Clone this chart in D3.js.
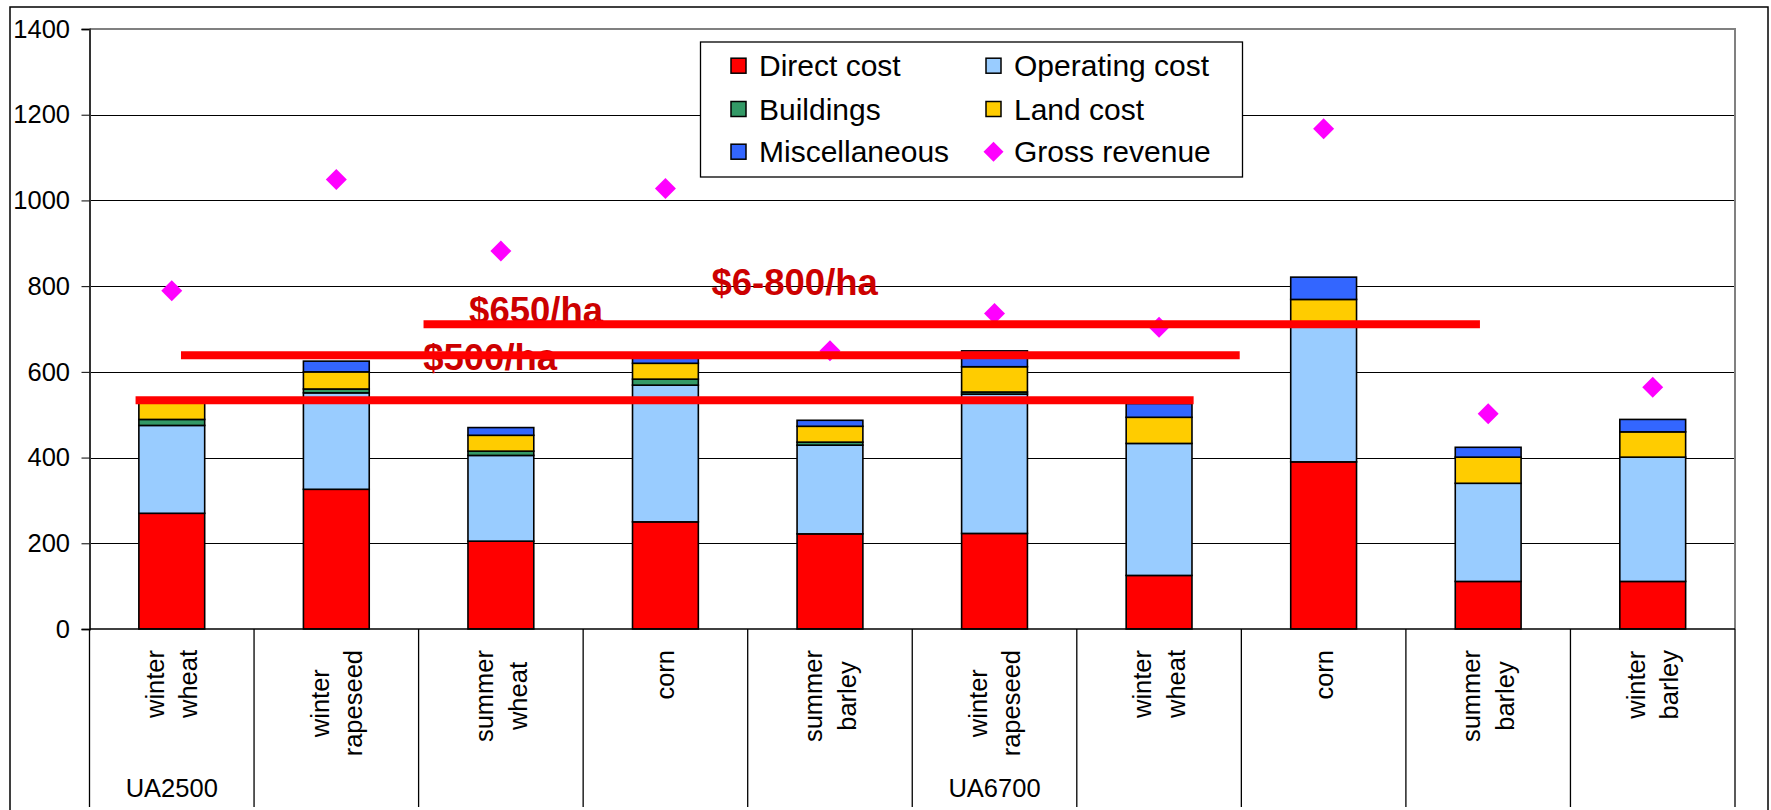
<!DOCTYPE html>
<html>
<head>
<meta charset="utf-8">
<script src="https://cdn.jsdelivr.net/npm/d3@7/dist/d3.min.js"></script>
<style>
  html, body { margin: 0; padding: 0; background: #ffffff; }
  svg { display: block; font-family: "Liberation Sans", Arial, sans-serif; }
</style>
</head>
<body>
<svg id="chart" width="1771" height="810"></svg>
<script>
// ---------- data ----------
const categories = ["winter wheat", "winter rapeseed", "summer wheat", "corn", "summer barley",
                    "winter rapeseed", "winter wheat", "corn", "summer barley", "winter barley"];
const groupLabels = ["UA2500", "", "", "", "", "UA6700", "", "", "", ""];
const directCost    = [270, 326, 205, 250, 222, 223, 125, 390, 111, 111];
const operatingCost = [205, 225, 200, 319, 207, 325, 308, 322, 229, 290];
const buildings     = [14, 9, 10, 14, 7, 5, 0, 0, 0, 0];
const landCost      = [41, 40, 37, 37, 37, 59, 61, 57, 61, 59];
const miscellaneous = [0, 25, 18, 15, 14, 37, 32, 52, 23, 29];
const grossRevenue  = [789, 1049, 882, 1028, 649, 736, 704, 1167, 502, 564];
const yTicks = [0, 200, 400, 600, 800, 1000, 1200, 1400];
const seriesNames = ["Direct cost", "Operating cost", "Buildings", "Land cost", "Miscellaneous", "Gross revenue"];
// reference lines: value level, start and end in category units
const refLineValues = [711, 639, 534];
const refLineStart  = [2.03, 0.556, 0.28];
const refLineEnd    = [8.45, 6.99, 6.71];
// annotations: text, value of baseline, start in category units
const noteTexts  = ["$650/ha", "$500/ha", "$6-800/ha"];
const noteValues = [714, 604, 779];
const noteStart  = [2.307, 2.028, 3.78];

(function () {
// ---------- styles ----------
const colors = ["#FF0000", "#99CCFF", "#339966", "#FFCC00", "#3366FF"];
const revenueColor = "#FF00FF";
const keys = ["direct", "operating", "buildings", "land", "misc"];

const svg = d3.select("#chart");
const pLeft = 89.5, pRight = 1735, pTop = 29, pBottom = 629;

const y = d3.scaleLinear().domain([0, 1400]).range([pBottom, pTop]);
const x = d3.scaleBand().domain(d3.range(categories.length)).range([pLeft, pRight])
            .paddingInner(0.6).paddingOuter(0.3);
const xu = d3.scaleLinear().domain([0, categories.length]).range([pLeft, pRight]);

// outer border
svg.append("rect").attr("x", 10).attr("y", 7).attr("width", 1758).attr("height", 830)
   .attr("fill", "#fff").attr("stroke", "#000").attr("stroke-width", 1.5);

// gridlines
svg.append("g").selectAll("line").data(yTicks.filter(t => t > 0 && t < 1400)).join("line")
   .attr("x1", pLeft).attr("x2", pRight)
   .attr("y1", d => Math.round(y(d)) + 0.5).attr("y2", d => Math.round(y(d)) + 0.5)
   .attr("stroke", "#000").attr("stroke-width", 1);

// plot border (top, right)
svg.append("path")
   .attr("d", `M${pLeft},${pTop}H${pRight}V${pBottom}`)
   .attr("fill", "none").attr("stroke", "#808080").attr("stroke-width", 2);

// y axis
const yAxis = d3.axisLeft(y).tickValues(yTicks).tickSize(8).tickPadding(11.5).tickFormat(d3.format("d"));
const ya = svg.append("g").attr("transform", `translate(${pLeft},0)`).call(yAxis);
ya.select(".domain").attr("stroke", "#333").attr("stroke-width", 2);
ya.selectAll(".tick line").attr("stroke", "#000");
ya.selectAll(".tick text").attr("font-size", 25.5).attr("fill", "#000")
  .attr("font-family", '"Liberation Sans", Arial, sans-serif');

// stacked bars
const table = categories.map((c, i) => ({
  direct: directCost[i], operating: operatingCost[i], buildings: buildings[i],
  land: landCost[i], misc: miscellaneous[i]
}));
const stacked = d3.stack().keys(keys)(table);
const barG = svg.append("g");
stacked.forEach((layer, li) => {
  barG.append("g").selectAll("rect")
    .data(layer.map((d, i) => ({ d, i })).filter(o => o.d[1] - o.d[0] > 0))
    .join("rect")
    .attr("x", o => x(o.i))
    .attr("width", x.bandwidth())
    .attr("y", o => y(o.d[1]))
    .attr("height", o => y(o.d[0]) - y(o.d[1]))
    .attr("fill", colors[li])
    .attr("stroke", "#000").attr("stroke-width", 1.6);
});

// x axis line and category dividers
svg.append("line").attr("x1", pLeft).attr("x2", pRight).attr("y1", pBottom).attr("y2", pBottom)
   .attr("stroke", "#000").attr("stroke-width", 1.5);
svg.append("g").selectAll("line").data(d3.range(categories.length + 1)).join("line")
   .attr("x1", k => xu(k)).attr("x2", k => xu(k)).attr("y1", pBottom).attr("y2", 807)
   .attr("stroke", "#000").attr("stroke-width", 1.3);

// category labels (rotated, wrapped)
const labelSize = 25.5, lineGap = 33.4;
categories.forEach((c, i) => {
  const lines = c.split(" ");
  const cx = x(i) + x.bandwidth() / 2;
  const g = svg.append("g");
  const texts = lines.map((ln) => g.append("text").text(ln)
      .attr("font-size", labelSize).attr("text-anchor", "middle").attr("fill", "#000"));
  const maxLen = d3.max(texts, t => t.node().getComputedTextLength());
  const cy = 650 + maxLen / 2;
  texts.forEach((t, j) => {
    const bx = cx + 9 + (j - (lines.length - 1) / 2) * lineGap;
    t.attr("transform", `translate(${bx},${cy}) rotate(-90)`);
  });
});

// group labels
svg.append("g").selectAll("text").data(groupLabels.map((g, i) => ({ g, i })).filter(o => o.g)).join("text")
   .attr("x", o => x(o.i) + x.bandwidth() / 2).attr("y", 796.5)
   .attr("text-anchor", "middle").attr("font-size", 25.5).attr("fill", "#000")
   .text(o => o.g);

// gross revenue diamonds
const diamond = d3.symbol(d3.symbolSquare, 220);
svg.append("g").selectAll("path").data(grossRevenue).join("path")
   .attr("d", diamond)
   .attr("transform", (d, i) => `translate(${x(i) + x.bandwidth() / 2},${y(d)}) rotate(45)`)
   .attr("fill", revenueColor);

// annotations
svg.append("g").selectAll("text").data(noteTexts).join("text")
   .attr("x", (d, i) => xu(noteStart[i])).attr("y", (d, i) => y(noteValues[i]))
   .attr("font-size", 36.5).attr("font-weight", "bold").attr("fill", "#CC0000")
   .text(d => d);

// reference lines
svg.append("g").selectAll("line").data(refLineValues).join("line")
   .attr("x1", (d, i) => xu(refLineStart[i])).attr("x2", (d, i) => xu(refLineEnd[i]))
   .attr("y1", d => y(d)).attr("y2", d => y(d))
   .attr("stroke", "#FF0000").attr("stroke-width", 8);

// legend
const lg = svg.append("g");
lg.append("rect").attr("x", 700.5).attr("y", 42).attr("width", 542).attr("height", 135)
  .attr("fill", "#fff").attr("stroke", "#000").attr("stroke-width", 1.3);
const colX = [731, 986], rowY = [65.7, 109, 151.7];
seriesNames.forEach((name, k) => {
  const col = k % 2, row = Math.floor(k / 2);
  const sx = colX[col], sy = rowY[row];
  if (k < 5) {
    lg.append("rect").attr("x", sx).attr("y", sy - 7.5).attr("width", 15).attr("height", 15)
      .attr("fill", colors[k]).attr("stroke", "#000").attr("stroke-width", 1.5);
  } else {
    lg.append("path").attr("d", d3.symbol(d3.symbolSquare, 200)())
      .attr("transform", `translate(${sx + 7.5},${sy}) rotate(45)`).attr("fill", revenueColor);
  }
  lg.append("text").attr("x", sx + 28).attr("y", sy + 10.5)
    .attr("font-size", 30).attr("fill", "#000").text(name);
});
})();
</script>
</body>
</html>
